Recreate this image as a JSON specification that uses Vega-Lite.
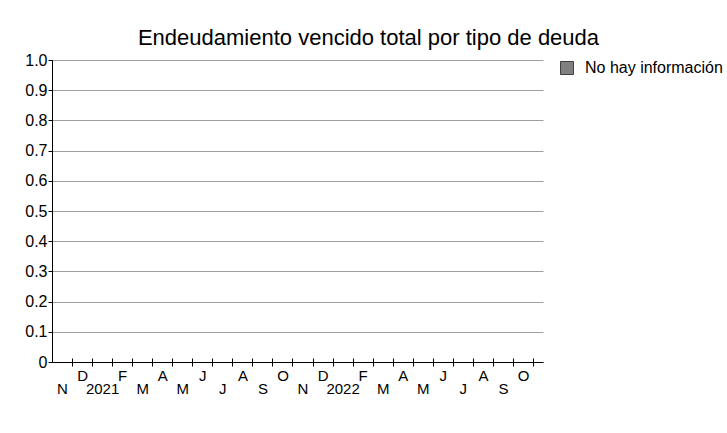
{
  "$schema": "https://vega.github.io/schema/vega-lite/v6.json",
  "width": 491,
  "height": 302,
  "autosize": {"type": "none"},
  "padding": {"left": 52, "top": 60, "right": 184, "bottom": 71},
  "background": "white",
  "title": {
    "text": "Endeudamiento vencido total por tipo de deuda",
    "font": "Liberation Sans",
    "fontSize": 22,
    "fontWeight": "normal",
    "color": "black",
    "anchor": "middle",
    "frame": "group",
    "dx": 71,
    "offset": 2
  },
  "data": {
    "values": [
      {"mes": 0, "tipo": "No hay información", "valor": 0},
      {"mes": 1, "tipo": "No hay información", "valor": 0},
      {"mes": 2, "tipo": "No hay información", "valor": 0},
      {"mes": 3, "tipo": "No hay información", "valor": 0},
      {"mes": 4, "tipo": "No hay información", "valor": 0},
      {"mes": 5, "tipo": "No hay información", "valor": 0},
      {"mes": 6, "tipo": "No hay información", "valor": 0},
      {"mes": 7, "tipo": "No hay información", "valor": 0},
      {"mes": 8, "tipo": "No hay información", "valor": 0},
      {"mes": 9, "tipo": "No hay información", "valor": 0},
      {"mes": 10, "tipo": "No hay información", "valor": 0},
      {"mes": 11, "tipo": "No hay información", "valor": 0},
      {"mes": 12, "tipo": "No hay información", "valor": 0},
      {"mes": 13, "tipo": "No hay información", "valor": 0},
      {"mes": 14, "tipo": "No hay información", "valor": 0},
      {"mes": 15, "tipo": "No hay información", "valor": 0},
      {"mes": 16, "tipo": "No hay información", "valor": 0},
      {"mes": 17, "tipo": "No hay información", "valor": 0},
      {"mes": 18, "tipo": "No hay información", "valor": 0},
      {"mes": 19, "tipo": "No hay información", "valor": 0},
      {"mes": 20, "tipo": "No hay información", "valor": 0},
      {"mes": 21, "tipo": "No hay información", "valor": 0},
      {"mes": 22, "tipo": "No hay información", "valor": 0},
      {"mes": 23, "tipo": "No hay información", "valor": 0}
    ]
  },
  "layer": [
    {
      "mark": {"type": "bar", "width": 10},
      "encoding": {
        "x": {
          "field": "mes",
          "type": "quantitative",
          "scale": {"domain": [0, 24.5], "nice": false, "zero": false, "padding": 0},
          "axis": {
            "orient": "bottom",
            "title": null,
            "values": [1, 2, 3, 4, 5, 6, 7, 8, 9, 10, 11, 12, 13, 14, 15, 16, 17, 18, 19, 20, 21, 22, 23, 24],
            "labels": false,
            "grid": false,
            "tickSize": 4,
            "tickColor": "black",
            "domainColor": "black"
          }
        },
        "y": {
          "field": "valor",
          "type": "quantitative",
          "scale": {"domain": [0, 1], "nice": false},
          "axis": {
            "title": null,
            "values": [0, 0.1, 0.2, 0.3, 0.4, 0.5, 0.6, 0.7, 0.8, 0.9, 1],
            "labelExpr": "datum.value == 0 ? '0' : format(datum.value, '.1f')",
            "grid": true,
            "gridColor": "#a0a0a0",
            "tickSize": 4,
            "tickColor": "black",
            "domainColor": "black",
            "labelFont": "Liberation Sans",
            "labelFontSize": 16,
            "labelColor": "black",
            "labelPadding": 1,
            "labelFlush": false,
            "labelOverlap": false,
            "labelBound": false
          }
        },
        "color": {
          "field": "tipo",
          "type": "nominal",
          "scale": {"range": ["#808080"]},
          "legend": {
            "title": null,
            "orient": "right",
            "offset": 16,
            "padding": 0,
            "symbolType": "square",
            "symbolSize": 169,
            "symbolStrokeColor": "#404040",
            "symbolStrokeWidth": 1,
            "symbolFillColor": "#808080",
            "symbolOpacity": 1,
            "labelFont": "Liberation Sans",
            "labelFontSize": 16,
            "labelColor": "black",
            "labelOffset": 10
          }
        }
      }
    },
    {
      "mark": {"type": "point", "opacity": 0},
      "encoding": {
        "x": {
          "field": "mes",
          "type": "quantitative",
          "axis": {
            "orient": "bottom",
            "title": null,
            "values": [1, 2, 3, 4, 5, 6, 7, 8, 9, 10, 11, 12, 13, 14, 15, 16, 17, 18, 19, 20, 21, 22, 23, 24],
            "labels": false,
            "grid": false,
            "domain": false,
            "tickSize": -4,
            "tickColor": "black"
          }
        }
      }
    },
    {
      "mark": {"type": "point", "opacity": 0},
      "encoding": {
        "x": {
          "field": "mes",
          "type": "quantitative",
          "axis": {
            "orient": "bottom",
            "title": null,
            "values": [1.5, 3.5, 5.5, 7.5, 9.5, 11.5, 13.5, 15.5, 17.5, 19.5, 21.5, 23.5],
            "labelExpr": "['N','D','2021','F','M','A','M','J','J','A','S','O','N','D','2022','F','M','A','M','J','J','A','S','O'][floor(datum.value)]",
            "ticks": false,
            "tickSize": 0,
            "domain": false,
            "grid": false,
            "labelFont": "Liberation Sans",
            "labelFontSize": 15,
            "labelColor": "black",
            "labelBaseline": "alphabetic",
            "labelPadding": 18,
            "labelFlush": false,
            "labelOverlap": false,
            "labelBound": false
          }
        }
      }
    },
    {
      "mark": {"type": "point", "opacity": 0},
      "encoding": {
        "x": {
          "field": "mes",
          "type": "quantitative",
          "axis": {
            "orient": "bottom",
            "title": null,
            "values": [0.5, 2.5, 4.5, 6.5, 8.5, 10.5, 12.5, 14.5, 16.5, 18.5, 20.5, 22.5],
            "labelExpr": "['N','D','2021','F','M','A','M','J','J','A','S','O','N','D','2022','F','M','A','M','J','J','A','S','O'][floor(datum.value)]",
            "ticks": false,
            "tickSize": 0,
            "domain": false,
            "grid": false,
            "labelFont": "Liberation Sans",
            "labelFontSize": 15,
            "labelColor": "black",
            "labelBaseline": "alphabetic",
            "labelPadding": 31,
            "labelFlush": false,
            "labelOverlap": false,
            "labelBound": false
          }
        }
      }
    }
  ],
  "resolve": {"axis": {"x": "independent"}},
  "config": {
    "view": {"stroke": null},
    "font": "Liberation Sans"
  }
}
